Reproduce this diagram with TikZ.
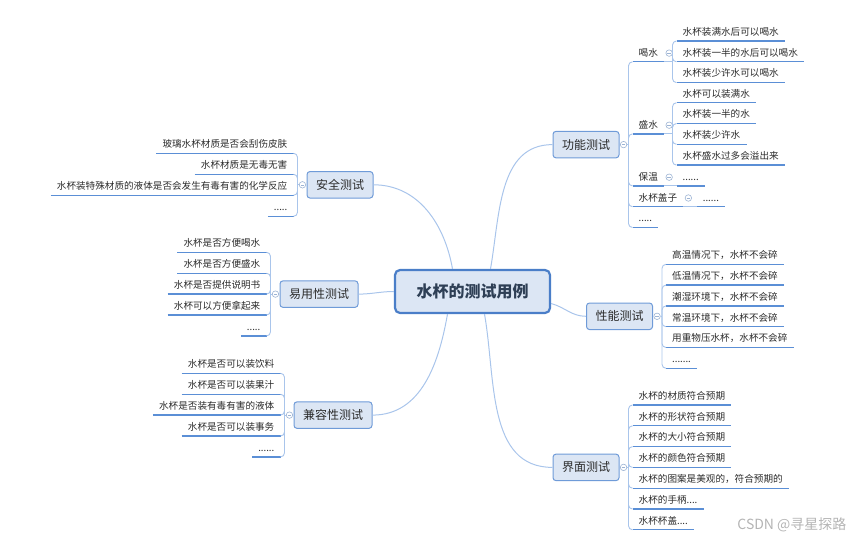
\documentclass[tikz,border=0pt]{standalone}
\usepackage{fontspec}
\setmainfont{Noto Sans CJK SC}
\usetikzlibrary{positioning}

\definecolor{rootblue}{HTML}{4A7EC8}
\definecolor{boxblue}{HTML}{6F9BD8}
\definecolor{boxfill}{HTML}{DCE6F4}
\definecolor{lineblue}{HTML}{5B8FD6}
\definecolor{linklight}{HTML}{A9C5EB}
\definecolor{foldgray}{HTML}{9DB4D4}
\definecolor{ink}{HTML}{2B2B2B}
\definecolor{rootink}{HTML}{2E3F55}
\definecolor{markgray}{HTML}{B4B4B4}

\tikzset{
    root/.style={draw=rootblue, line width=2.2pt, fill=boxfill, rounded corners=5pt,
        minimum width=155pt, minimum height=43pt, text=rootink,
        font=\fontsize{16}{18}\selectfont\bfseries},
    branch/.style={draw=boxblue, line width=1pt, fill=boxfill, rounded corners=3pt,
        inner xsep=9pt, minimum height=26.5pt, text=ink, font=\fontsize{12}{14}\selectfont},
    uline/.style={draw=lineblue, line width=1.3pt},
    leaf/.style={inner xsep=6pt, inner ysep=3pt, text height=8.5pt, text depth=2.5pt,
        text=ink, font=\fontsize{9.6}{11}\selectfont,
        append after command={(\tikzlastnode.south west) edge[uline] (\tikzlastnode.south east)}},
    leafR/.style={leaf, anchor=south west},
    leafL/.style={leaf, anchor=south east},
    fold/.style={circle, draw=foldgray, fill=white, line width=0.6pt, minimum size=6.5pt,
        inner sep=0pt,
        path picture={\draw[foldgray, line width=0.6pt]
            ([xshift=-1.7pt]path picture bounding box.center) --
            ([xshift=1.7pt]path picture bounding box.center);}},
    link/.style={draw=linklight, line width=0.9pt, rounded corners=4pt},
    trunk/.style={draw=linklight, line width=1pt}
}

\begin{document}
\begin{tikzpicture}[x=1pt, y=1pt]
    \useasboundingbox (0,0) rectangle (854,-541);

    % Draw nodes
    \node[root] (root) at (472.5,-291.5) {水杯的测试用例};
    \node[branch] (gn) at (586,-144.6) {功能测试};
    \node[branch] (xn) at (619.5,-316.3) {性能测试};
    \node[branch] (jm) at (586,-467.4) {界面测试};
    \node[branch] (aq) at (340,-184.8) {安全测试};
    \node[branch] (yy) at (319,-294.1) {易用性测试};
    \node[branch] (jr) at (333,-415.1) {兼容性测试};

    % 功能测试
    \node[leafR] (hs) at (632.5,-61.8) {喝水};
    \node[leafR] (sw) at (632.5,-133.9) {盛水};
    \node[leafR] (bw) at (632.5,-185.9) {保温};
    \node[leafR] (bz) at (632.5,-206.7) {水杯盖子};
    \node[leafR] (gn5) at (632.5,-227.5) {.....};
    \node[leafR] (hs1) at (676.5,-41) {水杯装满水后可以喝水};
    \node[leafR] (hs2) at (676.5,-61.8) {水杯装一半的水后可以喝水};
    \node[leafR] (hs3) at (676.5,-82.6) {水杯装少许水可以喝水};
    \node[leafR] (sw1) at (676.5,-102.7) {水杯可以装满水};
    \node[leafR] (sw2) at (676.5,-123.5) {水杯装一半的水};
    \node[leafR] (sw3) at (676.5,-144.3) {水杯装少许水};
    \node[leafR] (sw4) at (676.5,-165.1) {水杯盛水过多会溢出来};
    \node[leafR] (bw1) at (676.5,-185.9) {......};
    \node[leafR] (bz1) at (696.7,-206.7) {......};

    % 性能测试
    \node[leafR] (xn1) at (666,-264.3) {高温情况下，水杯不会碎};
    \node[leafR] (xn2) at (666,-285.1) {低温情况下，水杯不会碎};
    \node[leafR] (xn3) at (666,-305.9) {潮湿环境下，水杯不会碎};
    \node[leafR] (xn4) at (666,-326.7) {常温环境下，水杯不会碎};
    \node[leafR] (xn5) at (666,-347.5) {用重物压水杯，水杯不会碎};
    \node[leafR] (xn6) at (666,-368.3) {.......};

    % 界面测试
    \node[leafR] (jm1) at (632.5,-405) {水杯的材质符合预期};
    \node[leafR] (jm2) at (632.5,-425.8) {水杯的形状符合预期};
    \node[leafR] (jm3) at (632.5,-446.6) {水杯的大小符合预期};
    \node[leafR] (jm4) at (632.5,-467.4) {水杯的颜色符合预期};
    \node[leafR] (jm5) at (632.5,-488.2) {水杯的图案是美观的，符合预期的};
    \node[leafR] (jm6) at (632.5,-509) {水杯的手柄....};
    \node[leafR] (jm7) at (632.5,-529.8) {水杯杯盖....};

    % 安全测试
    \node[leafL] (aq1) at (293.5,-153.3) {玻璃水杯材质是否会刮伤皮肤};
    \node[leafL] (aq2) at (293.5,-174.3) {水杯材质是无毒无害};
    \node[leafL] (aq3) at (293.5,-195.3) {水杯装特殊材质的液体是否会发生有毒有害的化学反应};
    \node[leafL] (aq4) at (293.5,-216.3) {.....};

    % 易用性测试
    \node[leafL] (yy1) at (266.5,-252.3) {水杯是否方便喝水};
    \node[leafL] (yy2) at (266.5,-273.2) {水杯是否方便盛水};
    \node[leafL] (yy3) at (266.5,-294.1) {水杯是否提供说明书};
    \node[leafL] (yy4) at (266.5,-315) {水杯可以方便拿起来};
    \node[leafL] (yy5) at (266.5,-335.9) {.....};

    % 兼容性测试
    \node[leafL] (jr1) at (280.5,-373.3) {水杯是否可以装饮料};
    \node[leafL] (jr2) at (280.5,-394.2) {水杯是否可以装果汁};
    \node[leafL] (jr3) at (280.5,-415.1) {水杯是否装有毒有害的液体};
    \node[leafL] (jr4) at (280.5,-436) {水杯是否可以装事务};
    \node[leafL] (jr5) at (280.5,-456.9) {......};

    % Fold marks
    \node[fold, right=0.5pt of gn] (gn-f) {};
    \node[fold, right=0.5pt of xn] (xn-f) {};
    \node[fold, right=0.5pt of jm] (jm-f) {};
    \node[fold, left=0.5pt of aq] (aq-f) {};
    \node[fold, left=0.5pt of yy] (yy-f) {};
    \node[fold, left=0.5pt of jr] (jr-f) {};
    \node[fold, right=1.5pt of hs] (hs-f) {};
    \node[fold, right=1.5pt of sw] (sw-f) {};
    \node[fold, right=1.5pt of bw] (bw-f) {};
    \node[fold, right=1.5pt of bz] (bz-f) {};

    % Spines
    \coordinate (gn-s) at (628.5,-144.6);
    \coordinate (xn-s) at (662,-316.3);
    \coordinate (jm-s) at (628.5,-467.4);
    \coordinate (aq-s) at (297.5,-184.8);
    \coordinate (yy-s) at (270.5,-294.1);
    \coordinate (jr-s) at (284.5,-415.1);
    \coordinate (hs-s) at (672.5,-61.8);
    \coordinate (sw-s) at (672.5,-133.9);

    % Draw connections
    \draw[trunk] ([xshift=18pt]root.north) to[out=80, in=180] (gn.west);
    \draw[trunk] ([yshift=-12pt]root.east) to[out=-15, in=180] (xn.west);
    \draw[trunk] ([xshift=12pt]root.south) to[out=-80, in=180] (jm.west);
    \draw[trunk] ([xshift=-20pt]root.north) to[out=100, in=0] (aq.east);
    \draw[trunk] (root.west) to[out=180, in=0] (yy.east);
    \draw[trunk] ([xshift=-25pt]root.south) to[out=-100, in=0] (jr.east);

    \foreach \b in {gn, xn, jm, aq, yy, jr}
        \draw[link] (\b-f) -- (\b-s);
    \foreach \n in {hs, sw, bw, bz, gn5}
        \draw[link] (gn-s) |- (\n.south west);
    \foreach \n in {hs1, hs2, hs3}
        \draw[link] (hs-s) |- (\n.south west);
    \foreach \n in {sw1, sw2, sw3, sw4}
        \draw[link] (sw-s) |- (\n.south west);
    \draw[link] (hs.south east) -- (hs-s);
    \draw[link] (sw.south east) -- (sw-s);
    \draw[link] (bw.south east) -- (bw1.south west);
    \draw[link] (bz.south east) -- (bz1.south west);
    \foreach \n in {xn1, xn2, xn3, xn4, xn5, xn6}
        \draw[link] (xn-s) |- (\n.south west);
    \foreach \n in {jm1, jm2, jm3, jm4, jm5, jm6, jm7}
        \draw[link] (jm-s) |- (\n.south west);
    \foreach \n in {aq1, aq2, aq3, aq4}
        \draw[link] (aq-s) |- (\n.south east);
    \foreach \n in {yy1, yy2, yy3, yy4, yy5}
        \draw[link] (yy-s) |- (\n.south east);
    \foreach \n in {jr1, jr2, jr3, jr4, jr5}
        \draw[link] (jr-s) |- (\n.south east);

    % Watermark
    \node[anchor=east, text=markgray, font=\fontsize{14}{16}\selectfont] (mark) at (850,-525) {CSDN @寻星探路};
\end{tikzpicture}
\end{document}
